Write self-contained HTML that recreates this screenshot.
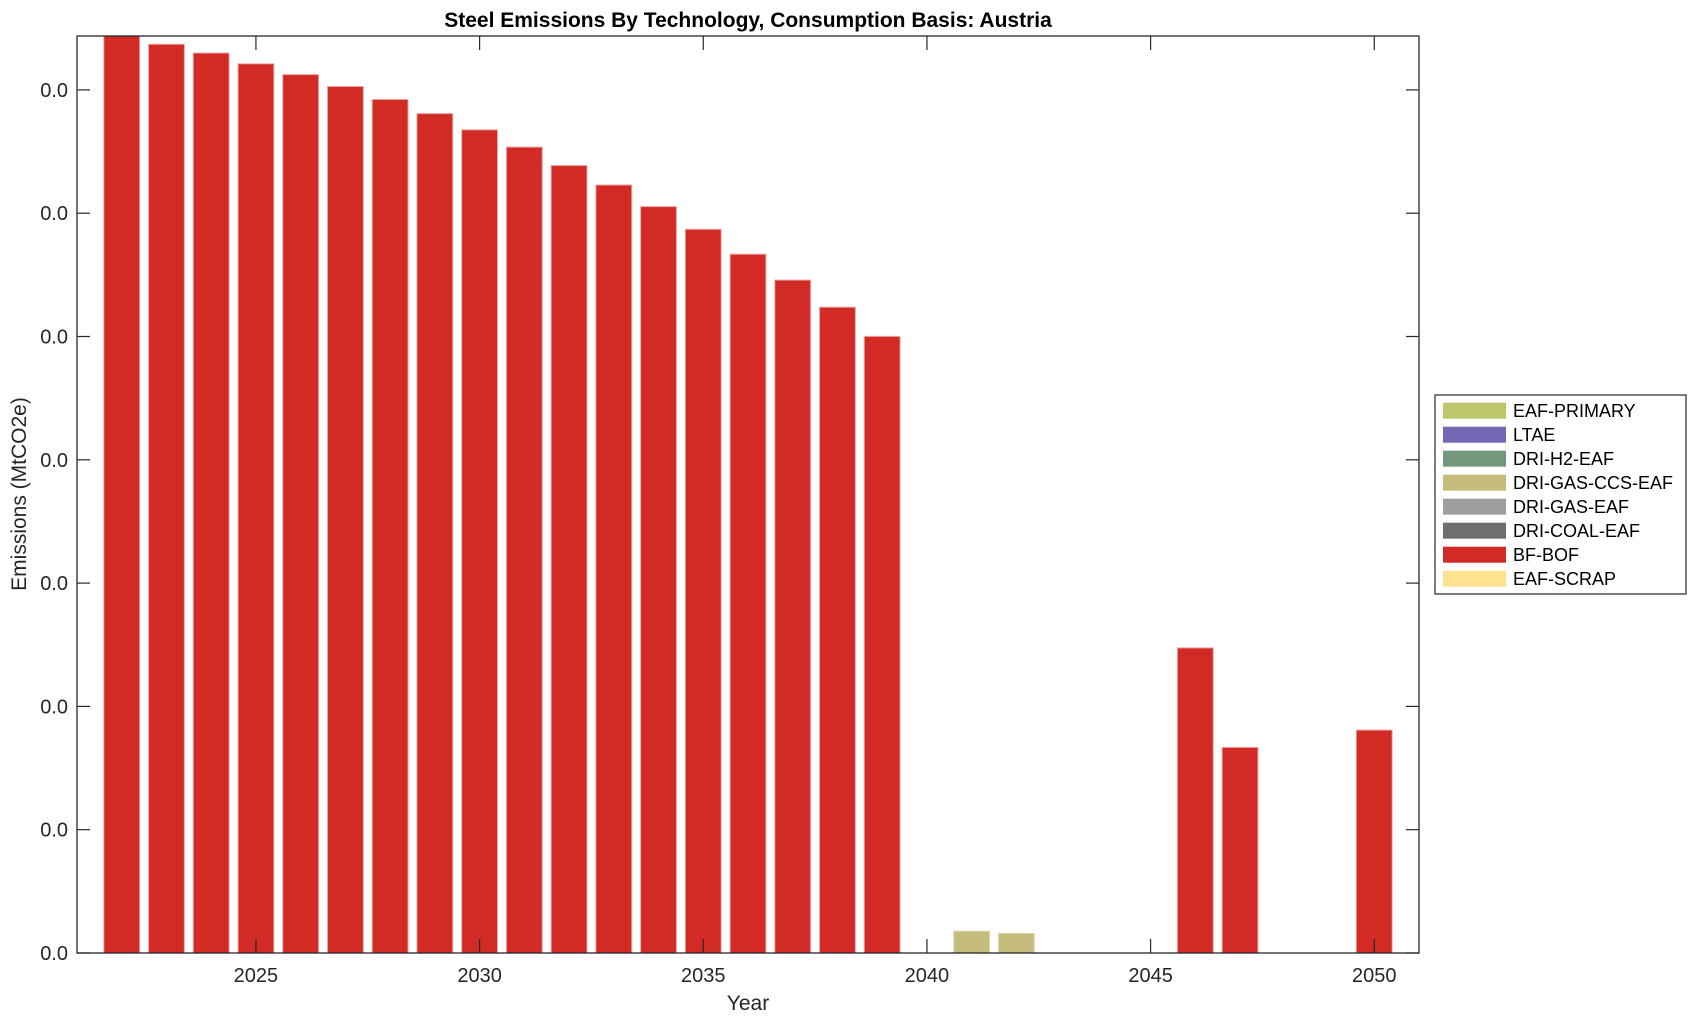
<!DOCTYPE html>
<html><head><meta charset="utf-8"><style>body{margin:0;background:#fff}svg{display:block}text{font-family:"Liberation Sans",Arial,sans-serif;fill:#262626}</style></head>
<body>
<svg width="1696" height="1021" viewBox="0 0 1696 1021" xmlns="http://www.w3.org/2000/svg">
<rect width="1696" height="1021" fill="#fff"/>
<g id="bars" stroke="#eaa4a2" stroke-width="1" fill="#d22b26"></g>
<rect x="77" y="36" width="1342" height="917" fill="none" stroke="#262626" stroke-width="1.3"/>
<g id="ticks" stroke="#262626" stroke-width="1.2"></g>
<g id="labels" font-size="20"></g>
<text x="748" y="27" font-size="21" font-weight="bold" text-anchor="middle" style="fill:#000">Steel Emissions By Technology, Consumption Basis: Austria</text>
<text x="748" y="1010" font-size="21" text-anchor="middle">Year</text>
<text x="0" y="0" font-size="21" text-anchor="middle" transform="translate(26,494) rotate(-90)">Emissions (MtCO2e)</text>
<rect x="1435" y="395" width="251" height="199" fill="#fff" stroke="#262626" stroke-width="1.2"/>
<g id="legend" font-size="18"></g>
</svg>
<script>
const X=y=>77+(y-2021)*44.733;
const bars=document.getElementById('bars');
const tops=[36,44.3,53,63.8,74.6,86.5,99.5,113.6,129.8,147.1,165.5,185,206.6,229.3,254.2,280.1,307.2,336.4];
let s='';
tops.forEach((t,i)=>{const yr=2022+i;s+=`<rect x="${X(yr)-17.9}" y="${t}" width="35.8" height="${953-t}"/>`;});
[[2041,931.2],[2042,933.4]].forEach(([yr,t])=>{s+=`<rect x="${X(yr)-17.9}" y="${t}" width="35.8" height="${953-t}" fill="#c6bc7b" stroke="#ddd6ad"/>`;});
[[2046,647.9],[2047,747.4],[2050,730.1]].forEach(([yr,t])=>{s+=`<rect x="${X(yr)-17.9}" y="${t}" width="35.8" height="${953-t}"/>`;});
bars.innerHTML=s;
let tk='',lb='';
[2025,2030,2035,2040,2045,2050].forEach(yr=>{const x=X(yr);tk+=`<line x1="${x}" y1="953" x2="${x}" y2="939"/><line x1="${x}" y1="36" x2="${x}" y2="50"/>`;lb+=`<text x="${x}" y="982" text-anchor="middle">${yr}</text>`;});
for(let i=0;i<8;i++){const y=953-i*123.3;tk+=`<line x1="77" y1="${y}" x2="90" y2="${y}"/><line x1="1419" y1="${y}" x2="1406" y2="${y}"/>`;lb+=`<text x="68" y="${y+7}" text-anchor="end">0.0</text>`;}
document.getElementById('ticks').innerHTML=tk;document.getElementById('labels').innerHTML=lb;
const L=[['EAF-PRIMARY','#bec66c'],['LTAE','#7268b6'],['DRI-H2-EAF','#72977a'],['DRI-GAS-CCS-EAF','#c6bc7b'],['DRI-GAS-EAF','#9e9e9e'],['DRI-COAL-EAF','#6e6e6e'],['BF-BOF','#d22b26'],['EAF-SCRAP','#fde290']];
let lg='';L.forEach(([n,c],i)=>{const cy=410.7+i*24;lg+=`<rect x="1443" y="${cy-8}" width="63" height="16" fill="${c}"/><text x="1513" y="${cy+6.5}" style="fill:#000">${n}</text>`;});
document.getElementById('legend').innerHTML=lg;
</script>
</body></html>
